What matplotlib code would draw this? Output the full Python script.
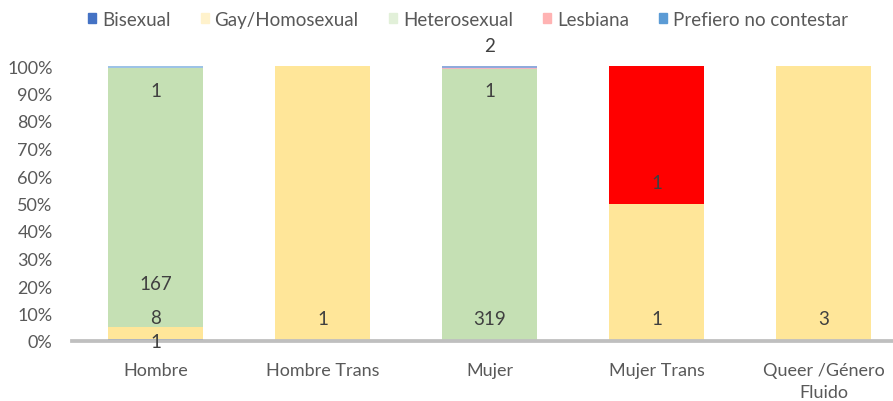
import numpy as np
import matplotlib.pyplot as plt
from matplotlib.patches import Patch
from matplotlib.ticker import PercentFormatter

plt.rcParams['font.family'] = ['Lato', 'DejaVu Sans']

categories = ['Hombre', 'Hombre Trans', 'Mujer', 'Mujer Trans', 'Queer /Género\nFluido']
series = ['Bisexual', 'Gay/Homosexual', 'Heterosexual', 'Lesbiana', 'Prefiero no contestar']

bisexual = [1, 0, 0, 0, 0]
gay = [8, 1, 0, 1, 3]
hetero = [167, 0, 319, 0, 0]
lesbiana = [0, 0, 1, 1, 0]
prefiero = [1, 0, 2, 0, 0]

bar_colors = ['#4472C4', '#FFE699', '#C5E0B4', '#FF0000', '#9DC3E6']
legend_colors = ['#4472C4', '#FFF2CC', '#E2F0D9', '#FFB3B3', '#5B9BD5']

# etiquetas tal como aparecen en el gráfico (categoría, altura en %, texto)
labels = [(0, -0.3, '1'), (0, 8.7, '8'), (0, 21, '167'), (0, 91, '1'),
          (1, 8, '1'),
          (2, 8, '319'), (2, 91, '1'), (2, 107.5, '2'),
          (3, 8, '1'), (3, 57.8, '1'),
          (4, 8, '3')]

data = np.array([bisexual, gay, hetero, lesbiana, prefiero], dtype=float)
pct = data / data.sum(axis=0) * 100

fig = plt.figure(figsize=(8.93, 4.02), dpi=100)
ax = fig.add_axes([72/893, 60/402, 821/893, 275/402])

x = np.arange(len(categories))
w = 0.57
bottom = np.zeros(len(categories))
for i in range(len(series)):
    cols = [bar_colors[i]] * len(categories)
    if series[i] == 'Lesbiana':
        cols[2] = '#F4B6C2'
    if series[i] == 'Prefiero no contestar':
        cols[2] = '#8FAADC'
    ax.bar(x, pct[i], w, bottom=bottom, color=cols, linewidth=0, zorder=1)
    bottom = bottom + pct[i]

for c, y, t in labels:
    ax.text(c, y, t, ha='center', va='center', fontsize=13.5, color='#404040',
            clip_on=False, zorder=5)

ax.set_xlim(-0.5, 4.416)
ax.set_ylim(0, 100)
ax.set_yticks(np.arange(0, 101, 10))
ax.yaxis.set_major_formatter(PercentFormatter(decimals=0))
ax.set_xticks(x)
ax.set_xticklabels(categories, linespacing=1.5)
ax.tick_params(axis='both', length=0, labelsize=13, colors='#595959')
ax.tick_params(axis='x', pad=15)
ax.tick_params(axis='y', pad=14)
for s in ['top', 'right', 'left']:
    ax.spines[s].set_visible(False)
ax.spines['bottom'].set_color('#BFBFBF')
ax.spines['bottom'].set_linewidth(2.7)
ax.spines['bottom'].set_zorder(3)

handles = [Patch(color=legend_colors[i], label=series[i]) for i in range(len(series))]
fig.legend(handles=handles, loc='center', bbox_to_anchor=(0.524, 0.95), ncol=5, frameon=False,
           fontsize=13.5, labelcolor='#595959', handlelength=0.45, handleheight=0.45,
           handletextpad=0.3, columnspacing=1.6)

plt.savefig('out.png', dpi=100)
